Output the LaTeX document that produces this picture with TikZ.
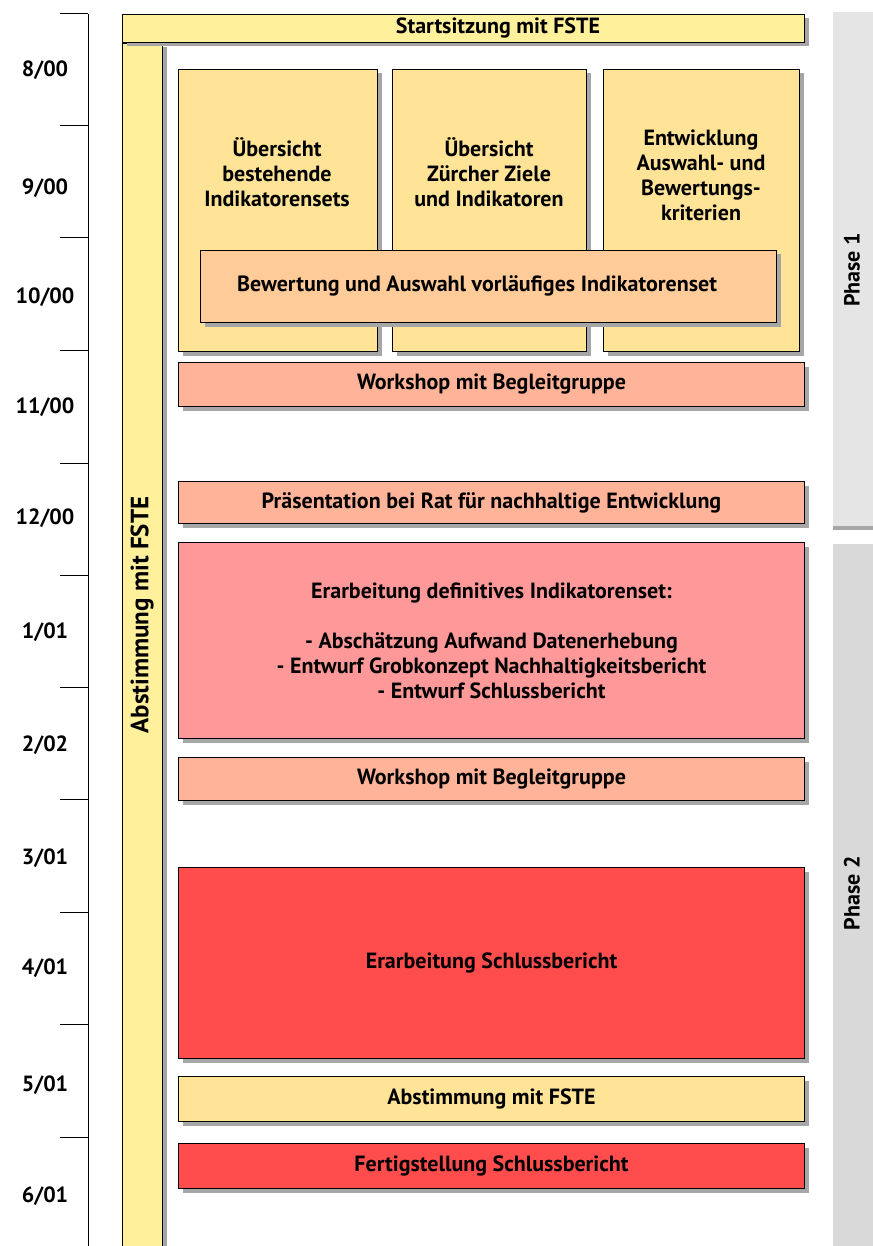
\documentclass[tikz,border=0pt]{standalone}
\usepackage{fontspec}
\setmainfont{PT Sans}
\usetikzlibrary{shadows}

\definecolor{paleyellow}{HTML}{FFF09C}
\definecolor{boxyellow}{HTML}{FFE397}
\definecolor{apricot}{HTML}{FFCC99}
\definecolor{salmon}{HTML}{FFB499}
\definecolor{rose}{HTML}{FF9999}
\definecolor{brightred}{HTML}{FF4D4D}
\definecolor{shadowgray}{HTML}{A6A6A6}

\begin{document}
\begin{tikzpicture}[x=1pt,y=-1pt,line width=1pt,
                box/.style={draw,anchor=north west,inner sep=0pt,
                  drop shadow={shadow xshift=4pt,shadow yshift=-4pt,
                    fill=shadowgray,opacity=1}},
                txt/.style={align=center,font=\fontsize{22}{25}\selectfont\bfseries},
                phase/.style={anchor=north west,inner sep=0pt,minimum width=40pt}]
	\useasboundingbox (0,0) rectangle (872,1246);

	% time axis
	\draw (88,14) -- (88,1246);
	\foreach \y in {14,126,238,350,463,575,687,799,912,1024,1137}
		\draw (60,\y) -- (88,\y);
	\foreach \lab/\y [count=\i] in {{8/00}/70,{9/00}/188,{10/00}/297,{11/00}/407,
		{12/00}/518,{1/01}/632,{2/02}/745,{3/01}/858,{4/01}/968,{5/01}/1085,{6/01}/1196}
		\node[txt] (t\i) at (45,\y) {\lab};

	% phases
	\node[phase,fill=black!10,minimum height=513pt,
		drop shadow={shadow xshift=0pt,shadow yshift=-4pt,fill=shadowgray,opacity=1}]
		(ph1) at (832,12) {};
	\node[phase,fill=black!15,minimum height=710pt] (ph2) at (832,543) {};
	\node[txt,rotate=90] (ph1t) at (852,270) {Phase 1};
	\node[txt,rotate=90] (ph2t) at (852,893) {Phase 2};

	% FSTE frame
	\node[box,fill=paleyellow,minimum width=40pt,minimum height=1210pt] (fste) at (122,43) {};
	\node[box,fill=paleyellow,minimum width=682pt,minimum height=28pt] (start) at (122,14) {};
	\node[txt] (startt) at (498,28) {Startsitzung mit FSTE};
	\node[txt,rotate=90,font=\fontsize{25}{27}\selectfont\bfseries] (fstet) at (142,615)
		{Abstimmung mit FSTE};

	% phase 1
	\node[box,fill=boxyellow,minimum width=199pt,minimum height=282pt] (ueb1) at (178,69) {};
	\node[box,fill=boxyellow,minimum width=194pt,minimum height=282pt] (ueb2) at (392,69) {};
	\node[box,fill=boxyellow,minimum width=196pt,minimum height=282pt] (entw) at (603,69) {};
	\node[txt] (ueb1t) at (277,172) {Übersicht\\bestehende\\Indikatorensets};
	\node[txt] (ueb2t) at (489,172) {Übersicht\\Zürcher Ziele\\und Indikatoren};
	\node[txt] (entwt) at (701,175) {Entwicklung\\Auswahl- und\\Bewertungs-\\kriterien};
	\node[box,fill=apricot,minimum width=576pt,minimum height=72pt,
		drop shadow={opacity=0}] (bew) at (200,250) {};
	\node[txt] (bewt) at (477,286) {Bewertung und Auswahl vorläufiges Indikatorenset};
	\node[box,fill=salmon,minimum width=626pt,minimum height=44pt,txt] (ws1) at (178,362)
		{Workshop mit Begleitgruppe};
	\node[box,fill=salmon,minimum width=626pt,minimum height=42pt,txt] (praes) at (178,481)
		{Präsentation bei Rat für nachhaltige Entwicklung};

	% phase 2
	\node[box,fill=rose,minimum width=626pt,minimum height=196pt,txt] (def) at (178,542)
		{Erarbeitung definitives Indikatorenset:\\[25pt]
		 - Abschätzung Aufwand Datenerhebung\\
		 - Entwurf Grobkonzept Nachhaltigkeitsbericht\\
		 - Entwurf Schlussbericht};
	\node[box,fill=salmon,minimum width=626pt,minimum height=43pt,txt] (ws2) at (178,757)
		{Workshop mit Begleitgruppe};
	\node[box,fill=brightred,minimum width=626pt,minimum height=191pt,txt] (schluss) at (178,867)
		{Erarbeitung Schlussbericht};
	\node[box,fill=boxyellow,minimum width=626pt,minimum height=45pt,txt] (abst) at (178,1076)
		{Abstimmung mit FSTE};
	\node[box,fill=brightred,minimum width=626pt,minimum height=45pt,txt] (fertig) at (178,1143)
		{Fertigstellung Schlussbericht};
\end{tikzpicture}
\end{document}
